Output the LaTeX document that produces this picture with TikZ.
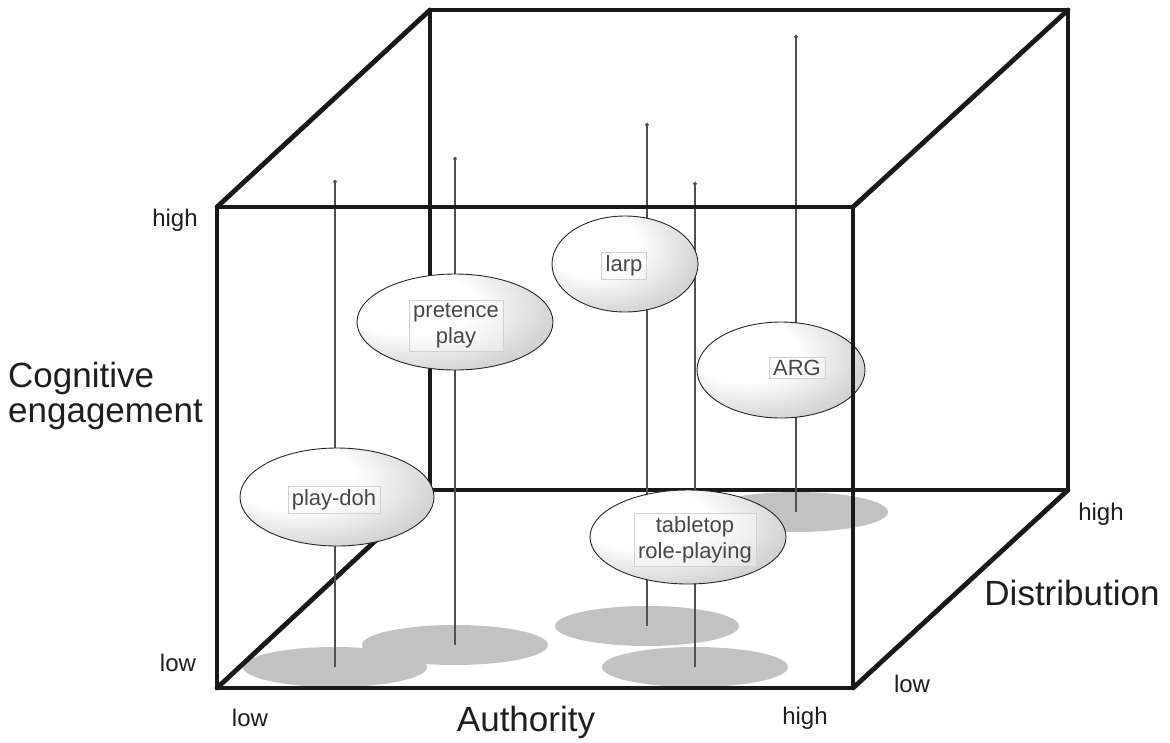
\documentclass[tikz,border=0pt]{standalone}
\usepackage{fontspec}
\setmainfont{Liberation Sans}
\usetikzlibrary{shapes.geometric,arrows.meta}
\definecolor{shadowgray}{HTML}{C2C2C2}
\definecolor{stemgray}{HTML}{505050}
\definecolor{labtext}{HTML}{474747}
\definecolor{axistext}{HTML}{1E1E1E}
\pgfdeclareradialshading{ellball}{\pgfpoint{-14bp}{12bp}}{color(0bp)=(white); color(16bp)=(white); color(45bp)=(black!28); color(62bp)=(black!40); color(80bp)=(black!45)}
\tikzset{
  edge/.style={line width=4.8pt, line cap=round, line join=round, black!90},
  stem/.style={line width=1.3pt, stemgray, {Circle[length=3.6pt]}-},
  shadowell/.style={ellipse, fill=shadowgray, draw=none, inner sep=0pt},
  bubble/.style={ellipse, draw=black!85, line width=0.9pt, shading=ellball, inner sep=0pt},
  tag/.style={draw=black!18, line width=0.6pt, fill=white, fill opacity=0.35, text opacity=1, text=labtext, font=\fontsize{22}{26}\selectfont, align=center, inner xsep=4pt, inner ysep=3pt},
  smalllab/.style={text=axistext, font=\fontsize{24}{28}\selectfont, inner sep=0pt},
  biglab/.style={text=axistext, font=\fontsize{35}{35}\selectfont, inner sep=0pt},
}
\begin{document}
\begin{tikzpicture}[x=1pt,y=-1pt]
\useasboundingbox (0,0) rectangle (1170,742);
% cube corners
\coordinate (FTL) at (217,207);
\coordinate (FTR) at (853,207);
\coordinate (FBL) at (217,688);
\coordinate (FBR) at (853,688);
\coordinate (BTL) at (430,10);
\coordinate (BTR) at (1068,10);
\coordinate (BBL) at (430,490);
\coordinate (BBR) at (1068,490);
% shadows
\node[shadowell, minimum width=184pt, minimum height=40pt] (s5) at (796,512) {};
\node[shadowell, minimum width=184pt, minimum height=40pt] (s3) at (647,626) {};
\node[shadowell, minimum width=186pt, minimum height=40pt] (s2) at (455,645) {};
\node[shadowell, minimum width=184pt, minimum height=40pt] (s1) at (335,667) {};
\node[shadowell, minimum width=186pt, minimum height=40pt] (s4) at (695,667) {};
% hidden/back edges
\draw[edge] (BTL) -- (BTR) -- (BBR) -- (BBL) -- cycle;
\draw[edge] (FBL) -- (BBL);
% stems
\coordinate (t1) at (335,180);
\coordinate (t2) at (455,157);
\coordinate (t3) at (647,123);
\coordinate (t4) at (695,182);
\coordinate (t5) at (796,35);
\draw[stem] (t1) -- (s1.center);
\draw[stem] (t2) -- (s2.center);
\draw[stem] (t3) -- (s3.center);
\draw[stem] (t4) -- (s4.center);
\draw[stem] (t5) -- (s5.center);
% bubbles
\node[bubble, minimum width=196pt, minimum height=96pt] (e2) at (455,322) {};
\node[tag] (l2) at (456,326) {pretence\\play};
\node[bubble, minimum width=146pt, minimum height=96pt] (e3) at (625,264) {};
\node[tag] (l3) at (624,266) {larp};
\node[bubble, minimum width=168pt, minimum height=96pt] (e5) at (781,370) {};
\node[tag] (l5) at (797,368) {ARG};
\node[bubble, minimum width=194pt, minimum height=98pt] (e1) at (337,497) {};
\node[tag] (l1) at (334,500) {play-doh};
\node[bubble, minimum width=196pt, minimum height=94pt] (e4) at (688,537) {};
\node[tag] (l4) at (695,540) {tabletop\\role-playing};
% front edges
\draw[edge] (FTL) -- (FTR) -- (FBR) -- (FBL) -- cycle;
\draw[edge] (FTL) -- (BTL);
\draw[edge] (FTR) -- (BTR);
\draw[edge] (FBR) -- (BBR);
% axis labels
\node[smalllab] (hy) at (175,220) {high};
\node[smalllab] (ly) at (178,663) {low};
\node[smalllab] (lx) at (250,718) {low};
\node[smalllab] (hx) at (805,718) {high};
\node[smalllab] (hz) at (1101,514) {high};
\node[smalllab] (lz) at (912,684) {low};
\node[biglab] (ax) at (526,722) {Authority};
\node[biglab] (az) at (1072,593) {Distribution};
\node[biglab, anchor=west, align=left] (ay) at (8,396) {Cognitive\\engagement};
\end{tikzpicture}
\end{document}
